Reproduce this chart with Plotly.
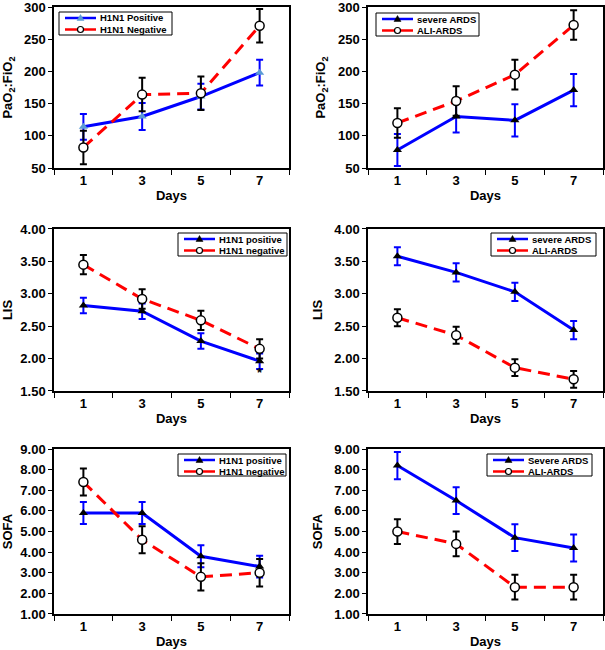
import plotly.graph_objects as go

days = [1, 3, 5, 7]

# PaO2:FiO2
pf_pos = [114, 130, 161, 198]
pf_pos_err = [20, 21, 20, 20]
pf_neg = [82, 164, 166, 271]
pf_neg_err = [26, 26, 26, 26]
pf_sev = [78, 130, 124, 171]
pf_sev_err = [25, 25, 25, 25]
pf_ali = [120, 154, 195, 272]
pf_ali_err = [23, 23, 23, 23]

# LIS
lis_pos = [2.82, 2.73, 2.27, 1.96]
lis_pos_err = [0.12, 0.12, 0.12, 0.12]
lis_neg = [3.45, 2.92, 2.59, 2.15]
lis_neg_err = [0.15, 0.15, 0.15, 0.15]
lis_sev = [3.58, 3.33, 3.03, 2.44]
lis_sev_err = [0.14, 0.14, 0.14, 0.14]
lis_ali = [2.63, 2.36, 1.86, 1.68]
lis_ali_err = [0.13, 0.13, 0.13, 0.13]

# SOFA
sofa_pos = [5.9, 5.9, 3.8, 3.3]
sofa_pos_err = [0.53, 0.53, 0.53, 0.53]
sofa_neg = [7.4, 4.6, 2.8, 3.0]
sofa_neg_err = [0.66, 0.65, 0.66, 0.67]
sofa_sev = [8.2, 6.5, 4.7, 4.2]
sofa_sev_err = [0.66, 0.65, 0.65, 0.65]
sofa_ali = [5.0, 4.4, 2.3, 2.3]
sofa_ali_err = [0.6, 0.6, 0.6, 0.6]

W, H = 605, 650
FONT = "Liberation Sans, Arial, sans-serif"
BLUE = "#0000ff"
RED = "#ff0000"
LIGHTBLUE = "#5b9bd5"

fig = go.Figure()


def px_x(x):
    return x / W


def px_y(y):
    return 1 - y / H


def add_pair(n, by, be, ry, re, tri_color="black"):
    ax = "" if n == 1 else str(n)
    fig.add_trace(go.Scatter(
        x=days, y=by, mode="lines+markers", showlegend=False,
        line=dict(color=BLUE, width=3),
        marker=dict(symbol="triangle-up", size=8, color=tri_color),
        error_y=dict(type="data", array=be, color=BLUE, thickness=2, width=3.5),
        xaxis="x" + ax, yaxis="y" + ax))
    fig.add_trace(go.Scatter(
        x=days, y=ry, mode="lines+markers", showlegend=False,
        line=dict(color=RED, width=3, dash="12px,7px"),
        marker=dict(symbol="circle", size=9, color="white",
                    line=dict(color="black", width=1.5)),
        error_y=dict(type="data", array=re, color="black", thickness=2, width=3.5),
        xaxis="x" + ax, yaxis="y" + ax))


def add_legend(box, blue_name, red_name, tri_color="black"):
    # small boxed legend like the original (plotly's own legend rows are too tall)
    x0, y0, x1, y1 = box
    fig.add_shape(type="rect", xref="paper", yref="paper",
                  x0=px_x(x0), x1=px_x(x1), y0=px_y(y0), y1=px_y(y1),
                  line=dict(color="black", width=1), fillcolor="white", layer="above")
    rows = [(y0 + 6, BLUE, blue_name, "tri"), (y0 + 17.5, RED, red_name, "circ")]
    for yy, col, name, mk in rows:
        fig.add_shape(type="line", xref="paper", yref="paper",
                      x0=px_x(x0 + 6), x1=px_x(x0 + 37), y0=px_y(yy), y1=px_y(yy),
                      line=dict(color=col, width=2.5), layer="above")
        cx = px_x(x0 + 21.5)
        cy = px_y(yy)
        if mk == "tri":
            fig.add_shape(type="path", xref="paper", yref="paper",
                          xsizemode="pixel", ysizemode="pixel", xanchor=cx, yanchor=cy,
                          path="M -3.5,-2.5 L 3.5,-2.5 L 0,3.5 Z",
                          fillcolor=tri_color, line=dict(color=tri_color, width=0.5),
                          layer="above")
        else:
            fig.add_shape(type="circle", xref="paper", yref="paper",
                          xsizemode="pixel", ysizemode="pixel", xanchor=cx, yanchor=cy,
                          x0=-3, x1=3, y0=-3, y1=3,
                          fillcolor="white", line=dict(color="black", width=1.2),
                          layer="above")
        fig.add_annotation(x=px_x(x0 + 39), y=px_y(yy), xref="paper", yref="paper",
                           text="<b>" + name + "</b>", showarrow=False,
                           xanchor="left", yanchor="middle",
                           font=dict(size=9.5, family=FONT, color="black"))


add_pair(1, pf_pos, pf_pos_err, pf_neg, pf_neg_err, tri_color=LIGHTBLUE)
add_pair(2, pf_sev, pf_sev_err, pf_ali, pf_ali_err)
add_pair(3, lis_pos, lis_pos_err, lis_neg, lis_neg_err)
add_pair(4, lis_sev, lis_sev_err, lis_ali, lis_ali_err)
add_pair(5, sofa_pos, sofa_pos_err, sofa_neg, sofa_neg_err)
add_pair(6, sofa_sev, sofa_sev_err, sofa_ali, sofa_ali_err)

add_legend((59, 12, 172, 35), "H1N1 Positive", "H1N1 Negative", tri_color=LIGHTBLUE)
add_legend((376, 13, 479, 36), "severe ARDS", "ALI-ARDS")
add_legend((178, 233, 287, 256), "H1N1 positive", "H1N1 negative")
add_legend((491, 233, 596, 256), "severe ARDS", "ALI-ARDS")
add_legend((178, 454, 286, 476), "H1N1 positive", "H1N1 negative")
add_legend((487, 454, 592, 476), "Severe ARDS", "ALI-ARDS")

xdom = [[0.0893, 0.4777], [0.6083, 0.9967]]
ydom = [[0.7415, 0.9892], [0.3985, 0.6477], [0.0554, 0.3092]]
yinfo = [
    ("PaO<sub>2</sub>:FiO<sub>2</sub>", [50, 300], 50, "d"),
    ("LIS", [1.5, 4.0], 0.5, ".2f"),
    ("SOFA", [1.0, 9.0], 1.0, ".2f"),
]

layout = dict(
    width=W, height=H, margin=dict(l=0, r=0, t=0, b=0, pad=0, autoexpand=False),
    paper_bgcolor="white", plot_bgcolor="white",
    font=dict(family=FONT, color="black", size=12),
)

for i in range(6):
    r, c = divmod(i, 2)
    n = i + 1
    sfx = "" if n == 1 else str(n)
    title, rng, dt, fmt = yinfo[r]
    layout["xaxis" + sfx] = dict(
        domain=xdom[c], anchor="y" + sfx, range=[0, 8],
        tickvals=days, ticktext=["<b>%d</b>" % d for d in days],
        ticks="", showgrid=False, zeroline=False, automargin=False,
        ticklabeloverflow="allow",
        showline=True, mirror=True, linecolor="black", linewidth=1.5,
        tickfont=dict(size=13, family=FONT), ticklabelstandoff=0,
        minor=dict(tickvals=[0, 2, 4, 6, 8], ticks="outside", ticklen=5,
                   tickcolor="black", tickwidth=1),
        title=dict(text="<b>Days</b>", font=dict(size=13, family=FONT), standoff=4),
    )
    layout["yaxis" + sfx] = dict(
        domain=ydom[r], anchor="x" + sfx, range=rng, dtick=dt, tick0=rng[0],
        tickformat=fmt, tickprefix="<b>", ticksuffix="</b>",
        ticks="outside", ticklen=4, tickcolor="black",
        showgrid=False, zeroline=False, automargin=False,
        ticklabeloverflow="allow",
        showline=True, mirror=True, linecolor="black", linewidth=1.5,
        tickfont=dict(size=13, family=FONT),
        title=dict(text="<b>" + title + "</b>", font=dict(size=13, family=FONT),
                   standoff=9),
    )

fig.update_layout(**layout)

# asterisk below day 7 in the LIS panel
fig.add_annotation(x=7, y=1.79, xref="x3", yref="y3", text="<b>*</b>",
                   showarrow=False, font=dict(size=13, family=FONT))

fig.write_html("out.html", config={"displayModeBar": False},
               post_script="document.body.style.margin='0px';")
